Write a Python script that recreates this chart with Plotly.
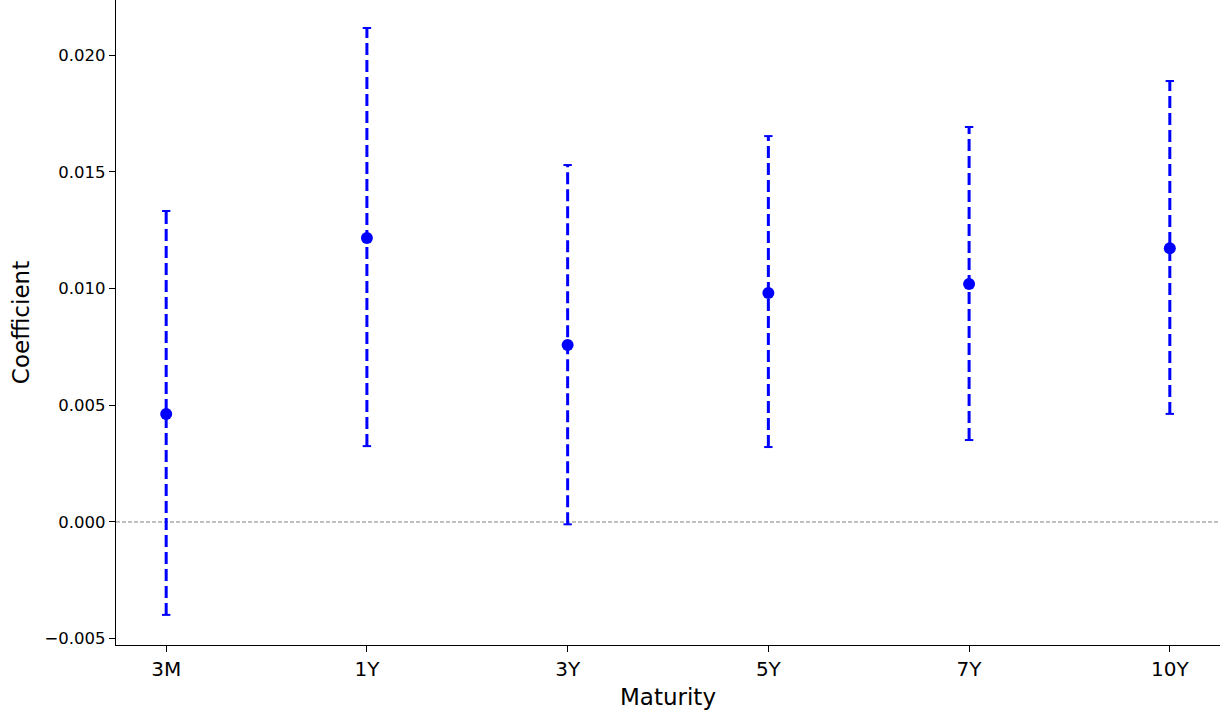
import plotly.graph_objects as go

categories = ["3M", "1Y", "3Y", "5Y", "7Y", "10Y"]
coef = [0.00463, 0.01216, 0.00758, 0.00981, 0.01019, 0.01173]
lower = [-0.00398, 0.00325, -0.00010, 0.00321, 0.00351, 0.00463]
upper = [0.01332, 0.02116, 0.01529, 0.01653, 0.01692, 0.01889]
ytick_vals = [-0.005, 0.000, 0.005, 0.010, 0.015, 0.020]

BLUE = "#0000ff"
FONT = "DejaVu Sans"

fig = go.Figure()

# dashed confidence intervals with caps
for cat, lo, hi in zip(categories, lower, upper):
    fig.add_trace(go.Scatter(
        x=[cat, cat], y=[lo, hi], mode="lines",
        line=dict(color=BLUE, width=3, dash="12px,5px"),
        showlegend=False, hoverinfo="skip"))
    fig.add_trace(go.Scatter(
        x=[cat, cat], y=[lo, hi], mode="markers",
        marker=dict(symbol="line-ew", size=6, line=dict(color=BLUE, width=2)),
        showlegend=False, hoverinfo="skip"))

# point estimates
fig.add_trace(go.Scatter(
    x=categories, y=coef, mode="markers",
    marker=dict(color=BLUE, size=12, symbol="circle"),
    showlegend=False))

# zero reference line
fig.add_shape(type="line", xref="paper", x0=0, x1=1, yref="y", y0=0, y1=0,
              line=dict(color="#808080", width=1, dash="4px,2px"), layer="below")

fig.update_layout(
    width=1228, height=714,
    margin=dict(l=116, r=8, t=0, b=69, autoexpand=False),
    plot_bgcolor="white", paper_bgcolor="white",
    font=dict(family=FONT, color="black"),
    xaxis=dict(
        type="category", range=[-0.25, 5.25], automargin=False,
        showline=True, linecolor="black", linewidth=1.2, mirror=False,
        showgrid=False, zeroline=False,
        ticks="outside", ticklen=6, tickwidth=1, tickcolor="black",
        tickfont=dict(size=20, family=FONT),
        title=dict(text="Maturity", font=dict(size=23, family=FONT), standoff=8),
    ),
    yaxis=dict(
        range=[-0.00527, 0.02236], automargin=False,
        tickvals=ytick_vals, tickformat=".3f",
        showline=True, linecolor="black", linewidth=1.2, mirror=False,
        showgrid=False, zeroline=False,
        ticks="outside", ticklen=6, tickwidth=1, tickcolor="black",
        tickfont=dict(size=16.5, family=FONT),
        title=dict(text="Coefficient", font=dict(size=23, family=FONT), standoff=8),
    ),
)

fig.write_html("out.html",
               config={"displayModeBar": False},
               post_script="document.body.style.margin='0';document.body.style.overflow='hidden';")
